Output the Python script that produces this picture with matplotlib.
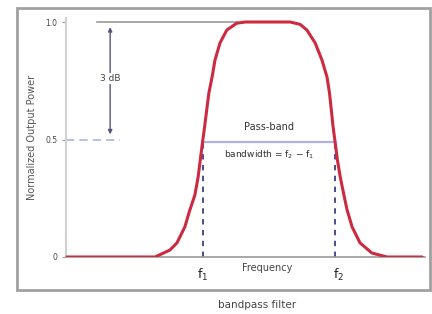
import matplotlib
matplotlib.use("Agg")
import matplotlib.pyplot as plt
from matplotlib.patches import Rectangle

# frequency (arbitrary units) and normalized output power
freq = [0, 24.8, 29.0, 30.9, 33.1, 34.5, 35.9, 36.8, 37.4, 38.0, 38.6, 39.2,
        39.8, 40.7, 41.5, 42.9, 44.8, 47.6, 49.9,
        62.4, 65.2, 67.1, 69.4, 71.3, 72.7, 73.4, 73.9, 74.4, 75.0, 75.6,
        76.4, 77.3, 78.3, 79.7, 81.9, 85.2, 89.4, 99.2]
power = [0, 0, 0.03, 0.06, 0.128, 0.2, 0.264, 0.34, 0.413, 0.485, 0.553, 0.626,
         0.698, 0.766, 0.838, 0.911, 0.966, 0.995, 1.0,
         1.0, 0.99, 0.966, 0.911, 0.838, 0.766, 0.698, 0.626, 0.553, 0.485, 0.413,
         0.34, 0.272, 0.2, 0.128, 0.06, 0.017, 0.0, 0.0]
f1 = 38.1
f2 = 74.9
half_power = 0.5
tick_vals = [0, 0.5, 1.0]
tick_labels = ["0", "0.5", "1.0"]

fig = plt.figure(figsize=(4.32, 3.14), dpi=100)
W, H = 432, 314
ax = fig.add_axes([66 / W, 1 - 257 / H, (425 - 66) / W, (257 - 18) / H])
ax.set_xlim(0, 100)
ax.set_ylim(0, 239 / 235)

gray = "#9a9a9a"
ax.plot(freq, power, color="#cc2a40", lw=2.2, solid_joinstyle="round",
        solid_capstyle="round", zorder=3)

# passband / half power markers
ax.axhline(1.0, xmin=0.087, xmax=0.476, color=gray, lw=1.2, zorder=1)
ax.plot([0, 15], [half_power, half_power], color="#a9b6e0", lw=1.2, ls=(0, (5, 3)))
ax.plot([f1, f2], [half_power - 0.01, half_power - 0.01], color="#b0b0e8", lw=1.6)
for f in (f1, f2):
    ax.plot([f, f], [0, half_power], color="#3c3f86", lw=1.3, ls=(0, (3, 3)), zorder=2)

ax.annotate("", xy=(12.3, 0.51), xytext=(12.3, 0.99),
            arrowprops=dict(arrowstyle="<|-|>", color="#55557a", lw=1.0,
                            mutation_scale=6))
ax.text(12.3, 0.76, "3 dB", fontsize=6.5, color="#444", ha="center", va="center",
        bbox=dict(facecolor="white", edgecolor="none", pad=1))

ax.text((f1 + f2) / 2, 0.555, "Pass-band", fontsize=7, color="#333",
        ha="center", va="center")
ax.text((f1 + f2) / 2, 0.435, "bandwidth = f$_2$ \u2212 f$_1$", fontsize=6.5,
        color="#333", ha="center", va="center")

ax.text(f1, -0.04, "f$_1$", fontsize=9, ha="center", va="top", color="#222")
ax.text(f2 + 1, -0.04, "f$_2$", fontsize=9, ha="center", va="top", color="#222")
ax.text(56, -0.025, "Frequency", fontsize=7, ha="center", va="top", color="#444")

ax.set_yticks(tick_vals)
ax.set_yticklabels(tick_labels, fontsize=5.5, color="#444")
ax.set_xticks([])
ax.tick_params(axis="y", length=3, color=gray, pad=3)
ax.set_ylabel("Normalized Output Power", fontsize=7, color="#555", labelpad=6)
for s in ("top", "right"):
    ax.spines[s].set_visible(False)
ax.spines["left"].set_color("#d0d0d0")
ax.spines["left"].set_linewidth(1.5)
ax.spines["bottom"].set_color(gray)
ax.spines["bottom"].set_linewidth(1.2)

# outer frame and caption
fig.patches.append(Rectangle((17 / W, 1 - 290 / H), (430 - 17) / W, (290 - 8) / H,
                             transform=fig.transFigure, fill=False,
                             edgecolor="#a0a0a0", lw=2))
fig.text(257 / W, 1 - 305 / H, "bandpass filter", fontsize=7.5, color="#444",
         ha="center", va="center")

fig.savefig("out.png", dpi=100)
